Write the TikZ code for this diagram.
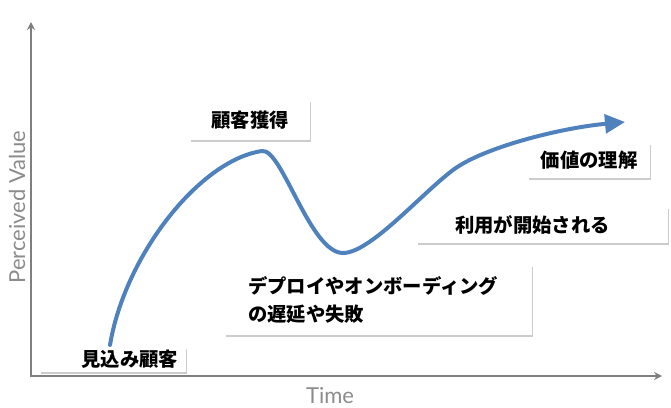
\documentclass[tikz,border=0pt]{standalone}
\usepackage{fontspec}
\setmainfont{Lato}
\newfontfamily\jpfont{Noto Sans CJK JP}
\usetikzlibrary{arrows.meta,shadows}
\definecolor{curveblue}{HTML}{4F81BD}
\definecolor{axisgray}{HTML}{7F7F7F}
\definecolor{labelgray}{HTML}{8C8C8C}

\begin{document}
\begin{tikzpicture}[x=0.75pt,y=-0.75pt,
  axis/.style={draw=axisgray, line width=1.5pt,
    {Stealth[length=6pt,width=6pt]}-{Stealth[length=6pt,width=6pt]}},
  axislabel/.style={text=labelgray, font=\fontsize{16.5}{19}\selectfont, inner sep=0pt},
  valuecurve/.style={draw=curveblue, line width=3pt, line cap=round,
    -{Triangle[length=15pt,width=14pt]}},
  stagebox/.style={fill=white, inner ysep=0pt,
    drop shadow={shadow xshift=0.8pt, shadow yshift=-1.4pt, fill=black, opacity=0.2},
    font=\jpfont\bfseries\fontsize{14.5}{21}\selectfont}]
\useasboundingbox (0,0) rectangle (671,407);
% axes
\coordinate (origin) at (31,376);
\coordinate (ytip) at (31,22);
\coordinate (xtip) at (662,376);
\draw [axis] (ytip) -- (origin) -- (xtip);
\node [axislabel, rotate=90] (value) at (17,207) {Perceived Value};
\node [axislabel] (time) at (330,396) {Time};
% perceived value over time
\coordinate (start) at (110,345);
\coordinate (peak) at (262,151);
\coordinate (dip) at (343,253);
\coordinate (climb) at (453,170);
\coordinate (goal) at (625,122);
\draw [valuecurve] (start) .. controls (125,255) and (200,160) .. (peak)
  .. controls (282,148) and (310,253) .. (dip)
  .. controls (370,253) and (420,195) .. (climb)
  .. controls (483,147.5) and (560,128) .. (goal);
% stages
\node [stagebox, inner xsep=6pt, text width=97.5pt, align=right,
  minimum height=18.75pt] (prospect) at (113,359.5) {見込み顧客};
\node [stagebox, inner xsep=0pt, minimum width=90pt,
  minimum height=30pt] (acquire) at (250,120) {顧客獲得};
\node [stagebox, inner xsep=17.25pt, text width=195.75pt, align=left,
  minimum height=52.5pt] (delay) at (378.5,300)
  {デプロイやオンボーディング\\の遅延や失敗};
\node [stagebox, inner xsep=28.5pt, text width=131.25pt, align=left,
  minimum height=27pt] (usage) at (542.5,225) {利用が開始される};
\node [stagebox, inner xsep=0pt, minimum width=91.5pt,
  minimum height=26.25pt] (understand) at (589,160.5) {価値の理解};
\end{tikzpicture}
\end{document}
